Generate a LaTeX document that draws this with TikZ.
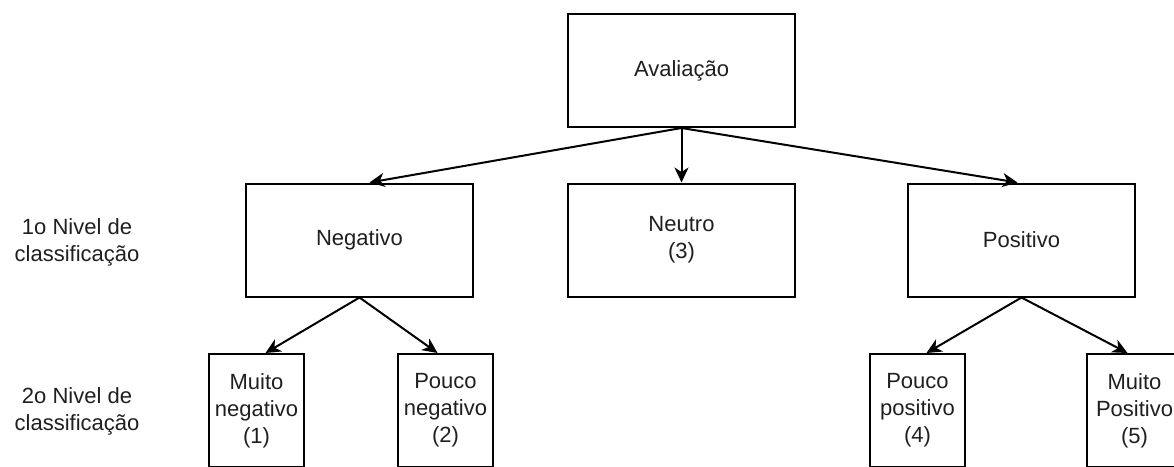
\documentclass[tikz,border=0pt]{standalone}
\usepackage{fontspec}
\setmainfont{Liberation Sans}
\usetikzlibrary{arrows.meta}
\begin{document}
\begin{tikzpicture}[x=1pt,y=-1pt,
  every node/.style={font=\fontsize{22}{27}\selectfont, align=center, inner sep=0pt, text=black!88},
  bigbox/.style={draw=black, line width=2pt, minimum width=227pt, minimum height=113pt},
  smallbox/.style={draw=black, line width=2pt, minimum width=95pt, minimum height=113pt},
  link/.style={line width=2pt, -{Stealth[length=15pt,width=14pt,inset=4.5pt]}}]
\useasboundingbox (0,0) rectangle (1174,466);

% first and second level boxes
\node[bigbox] (aval) at (681.5,70.5) {Avaliação};
\node[bigbox] (neg)  at (359.5,240) {Negativo};
\node[bigbox] (neu)  at (681.5,240) {Neutro\\(3)};
\node[bigbox] (pos)  at (1021.5,240) {Positivo};

\node[smallbox] (m1) at (256.5,410.5) {Muito\\negativo\\(1)};
\node[smallbox] (m2) at (445.5,410.5) {Pouco\\negativo\\(2)};
\node[smallbox] (m4) at (917.5,410.5) {Pouco\\positivo\\(4)};
\node[smallbox] (m5) at (1134.5,410.5) {Muito\\Positivo\\(5)};

% level captions
\node (l1) at (77,242) {1o Nivel de\\classificação};
\node (l2) at (77,411) {2o Nivel de\\classificação};

% connectors
\draw[link] (aval.south) -- ([xshift=10pt]neg.north);
\draw[link] (aval.south) -- (neu.north);
\draw[link] (aval.south) -- ([xshift=-4pt]pos.north);
\draw[link] (neg.south) -- ([xshift=9pt]m1.north);
\draw[link] (neg.south) -- ([xshift=-8pt]m2.north);
\draw[link] (pos.south) -- ([xshift=9pt]m4.north);
\draw[link] (pos.south) -- ([xshift=-7pt]m5.north);
\end{tikzpicture}
\end{document}
